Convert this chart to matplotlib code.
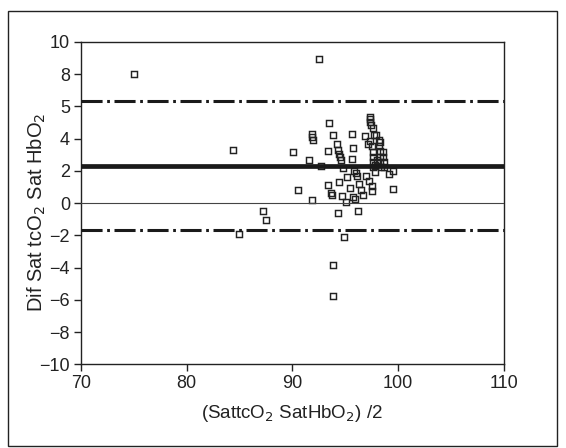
import matplotlib
matplotlib.use("Agg")
import matplotlib.pyplot as plt
from matplotlib.patches import Rectangle

plt.rcParams['font.family'] = ['Liberation Sans', 'DejaVu Sans']

# mean of the two methods (x) and their difference (y)
mean_sat = [74.98, 92.52, 84.35, 84.95, 87.26, 87.48, 90.06, 90.50, 91.61, 91.83,
            91.89, 91.99, 91.83, 92.74, 93.47, 93.82, 93.34, 93.38, 93.69, 93.72,
            94.20, 94.29, 94.45, 94.48, 94.61, 94.76, 94.38, 94.29, 93.85, 93.85,
            94.86, 94.73, 95.05, 95.14, 95.46, 95.65, 95.68, 95.74, 95.84, 96.00,
            96.10, 95.74, 95.90, 96.20, 96.34, 96.47, 96.69, 96.88, 97.00, 97.13,
            97.26, 97.32, 97.35, 97.38, 97.48, 97.63, 97.76, 97.51, 97.54, 97.57,
            97.60, 97.60, 97.60, 97.60, 97.85, 97.95, 98.17, 98.23, 98.26, 98.26,
            98.33, 98.42, 98.58, 98.58, 98.64, 98.71, 98.01, 97.85, 99.12, 99.50,
            99.53, 98.33, 97.32]
diff_sat = [8.02, 8.95, 3.26, -1.92, -0.52, -1.07, 3.14, 0.81, 2.64, 4.28,
            4.11, 3.90, 0.17, 2.31, 4.98, 4.19, 3.20, 1.10, 0.60, 0.48,
            3.64, 3.29, 3.04, 2.87, 2.67, 2.15, 1.28, -0.64, -3.86, -5.76,
            -2.13, 0.43, 0.04, 1.61, 0.91, 2.71, 4.28, 3.41, 2.00, 1.84,
            1.67, 0.39, 0.27, -0.52, 1.16, 0.81, 0.50, 4.15, 1.67, 3.66,
            1.36, 5.35, 5.19, 5.02, 4.86, 4.63, 4.24, 1.05, 0.72, 3.53,
            3.18, 2.87, 2.56, 2.25, 1.94, 4.21, 3.90, 3.55, 3.24, 2.87,
            2.56, 2.25, 3.18, 2.87, 2.56, 2.25, 2.67, 2.36, 1.78, 2.00,
            0.87, 3.80, 3.86]

mean_diff = 2.27
upper_loa = 6.34
lower_loa = -1.67

x_ticks = [70, 80, 90, 100, 110]
y_ticks = [10, 8, 6, 4, 2, 0, -2, -4, -6, -8, -10]
# the original figure labels the 6 tick as "5"
y_tick_labels = ['10', '8', '5', '4', '2', '0', '\u22122', '\u22124', '\u22126', '\u22128', '\u221210']

fig = plt.figure(figsize=(5.66, 4.48), dpi=100)
ax = fig.add_axes([0.1431, 0.1868, 0.7465, 0.720])

# outer frame around the whole figure
fig.patches.append(Rectangle((7.5 / 566, 2.5 / 448), 549 / 566, 434.5 / 448,
                             transform=fig.transFigure, fill=False,
                             edgecolor='#222222', linewidth=1.0))

ax.plot(mean_sat, diff_sat, linestyle='none', marker='s', markersize=4.5,
        markerfacecolor='none', markeredgecolor='#222222', markeredgewidth=1.05, zorder=2)

ax.axhline(0, color='#444444', linewidth=0.8, zorder=3)
ax.axhline(mean_diff, color='#1a1a1a', linewidth=3.4, zorder=3)
dashdot = (0, (6.9, 1.5, 0.9, 1.5))
ax.axhline(upper_loa, color='#1a1a1a', linewidth=2.2, linestyle=dashdot,
           dash_capstyle='butt', zorder=3)
ax.axhline(lower_loa, color='#1a1a1a', linewidth=2.2, linestyle=dashdot,
           dash_capstyle='butt', zorder=3)

ax.set_xlim(70, 110)
ax.set_ylim(-10, 10)
ax.set_xticks(x_ticks)
ax.set_yticks(y_ticks)
ax.set_yticklabels(y_tick_labels)
ax.tick_params(direction='out', length=5, width=1, labelsize=13,
               colors='#222222', pad=3)

for s in ax.spines.values():
    s.set_color('#222222')
    s.set_linewidth(1.0)

ax.set_xlabel('(SattcO$_2$ SatHbO$_2$) /2', fontsize=13.5, color='#222222', va='center')
ax.set_ylabel('Dif Sat tcO$_2$ Sat HbO$_2$', fontsize=14.5, color='#222222', va='center')
ax.xaxis.set_label_coords(0.5, -0.151)
ax.yaxis.set_label_coords(-0.104, 0.47)

fig.savefig('out.png', dpi=100)
